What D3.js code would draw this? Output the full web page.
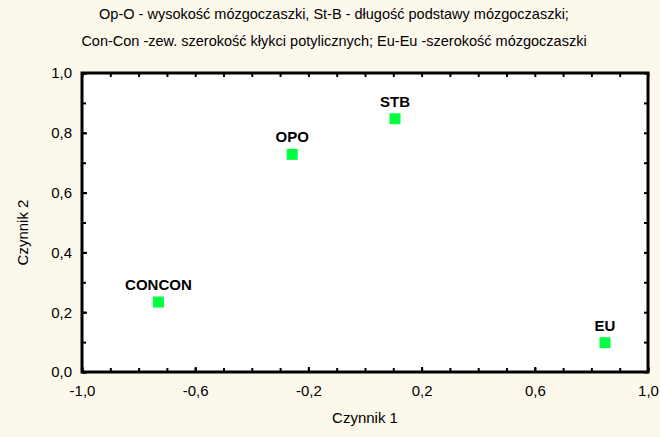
<!DOCTYPE html>
<html>
<head>
<meta charset="utf-8">
<script src="https://cdn.jsdelivr.net/npm/d3@7"></script>
<style>
  html, body { margin: 0; padding: 0; background: #fdf8ec; }
  svg { display: block; font-family: "Liberation Sans", Arial, sans-serif; }
</style>
</head>
<body>
<script>
// data
const names = ["OPO", "STB", "CONCON", "EU"];
const factor1 = [-0.257, 0.106, -0.730, 0.848];
const factor2 = [0.728, 0.847, 0.234, 0.098];
const titleLines = [
    "Op-O - wysokość mózgoczaszki, St-B - długość podstawy mózgoczaszki;",
    "Con-Con -zew. szerokość kłykci potylicznych; Eu-Eu -szerokość mózgoczaszki"
];
const xTickLabels = [-1.0, -0.6, -0.2, 0.2, 0.6, 1.0];
const yTickLabels = [0.0, 0.2, 0.4, 0.6, 0.8, 1.0];

const width = 660, height = 437;
const margin = {top: 73, right: 12, bottom: 65, left: 82};

const svg = d3.select("body").append("svg")
    .attr("width", width)
    .attr("height", height);

svg.append("rect")
    .attr("width", width)
    .attr("height", height)
    .attr("fill", "#fdf8ec");

const x = d3.scaleLinear().domain([-1, 1]).range([margin.left, width - margin.right]);
const y = d3.scaleLinear().domain([0, 1]).range([height - margin.bottom, margin.top]);

const fmt = v => d3.format(".1f")(v).replace(".", ",").replace("−", "-");

// title
svg.selectAll(".title")
    .data(titleLines)
    .enter()
    .append("text")
    .attr("class", "title")
    .attr("x", width / 2 + 4)
    .attr("y", (d, i) => 19 + i * 27)
    .attr("text-anchor", "middle")
    .attr("font-size", 14.5)
    .attr("fill", "#000")
    .text(d => d);

// plot area
const x0 = x(-1), x1 = x(1), y0 = y(0), y1 = y(1);
svg.append("rect")
    .attr("x", x0)
    .attr("y", y1)
    .attr("width", x1 - x0)
    .attr("height", y0 - y1)
    .attr("fill", "#fff")
    .attr("stroke", "#000")
    .attr("stroke-width", 3);

const xMinor = d3.range(-10, 11).map(d => d / 10);
const yMinor = d3.range(0, 11).map(d => d / 10);

function styleAxis(g) {
    g.select(".domain").remove();
    g.selectAll(".tick line").attr("stroke", "#000").attr("stroke-width", 2);
    g.selectAll(".tick text").attr("font-size", 15).attr("fill", "#000");
}

// minor ticks, all four sides, inside
svg.append("g")
    .attr("transform", `translate(0,${y0})`)
    .call(d3.axisBottom(x).tickValues(xMinor).tickSize(-4).tickFormat(""))
    .call(styleAxis);
svg.append("g")
    .attr("transform", `translate(0,${y1})`)
    .call(d3.axisTop(x).tickValues(xMinor).tickSize(-4).tickFormat(""))
    .call(styleAxis);
svg.append("g")
    .attr("transform", `translate(${x0},0)`)
    .call(d3.axisLeft(y).tickValues(yMinor).tickSize(-4).tickFormat(""))
    .call(styleAxis);
svg.append("g")
    .attr("transform", `translate(${x1},0)`)
    .call(d3.axisRight(y).tickValues(yMinor).tickSize(-4).tickFormat(""))
    .call(styleAxis);

// labelled ticks
svg.append("g")
    .attr("transform", `translate(0,${y0})`)
    .call(d3.axisBottom(x).tickValues(xTickLabels).tickSize(-5).tickPadding(13).tickFormat(fmt))
    .call(styleAxis);
svg.append("g")
    .attr("transform", `translate(${x0},0)`)
    .call(d3.axisLeft(y).tickValues(yTickLabels).tickSize(-5).tickPadding(10).tickFormat(fmt))
    .call(styleAxis);

// axis titles
svg.append("text")
    .attr("x", (x0 + x1) / 2)
    .attr("y", 423)
    .attr("text-anchor", "middle")
    .attr("font-size", 15)
    .text("Czynnik 1");

svg.append("text")
    .attr("transform", `translate(28,${(y0 + y1) / 2 + 10}) rotate(-90)`)
    .attr("text-anchor", "middle")
    .attr("font-size", 15)
    .text("Czynnik 2");

// points
const pts = names.map((n, i) => ({name: n, fx: factor1[i], fy: factor2[i]}));
const sq = 11;

svg.selectAll(".pt")
    .data(pts)
    .enter()
    .append("rect")
    .attr("class", "pt")
    .attr("x", d => x(d.fx) - sq / 2)
    .attr("y", d => y(d.fy) - sq / 2)
    .attr("width", sq)
    .attr("height", sq)
    .attr("fill", "#00ff40");

svg.selectAll(".lbl")
    .data(pts)
    .enter()
    .append("text")
    .attr("class", "lbl")
    .attr("x", d => x(d.fx))
    .attr("y", d => y(d.fy) - 12)
    .attr("text-anchor", "middle")
    .attr("font-size", 15)
    .attr("font-weight", "bold")
    .text(d => d.name);
</script>
</body>
</html>
